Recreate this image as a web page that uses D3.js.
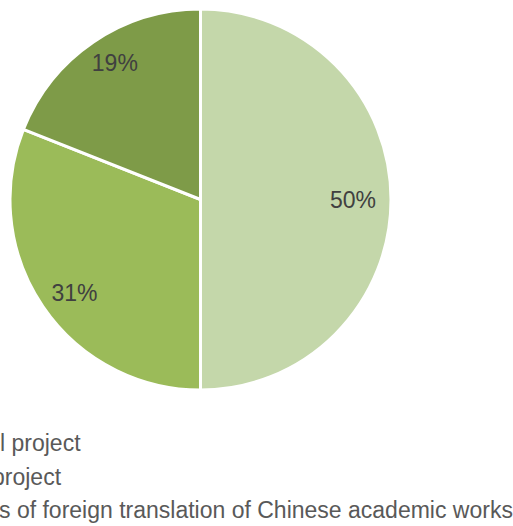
<!DOCTYPE html>
<html>
<head>
<meta charset="utf-8">
<script src="https://cdn.jsdelivr.net/npm/d3@7"></script>
<style>
  html, body { margin: 0; padding: 0; background: #fff; }
  svg { display: block; }
  text { font-family: "Liberation Sans", Arial, Helvetica, sans-serif; }
</style>
</head>
<body>
<svg id="chart" width="513" height="526"></svg>
<script>
// Share of funded projects by type
const categories = ["first", "second", "third"];
const shares = [50, 31, 19];
const sliceColors = ["#c4d7aa", "#9bbb59", "#7e9b48"];
const legendLabels = [
  "l project",
  "project",
  "s of foreign translation of Chinese academic works"
];

const W = 513, H = 526;
const cx = 200.5, cy = 199.5, R = 190.5;

const svg = d3.select("#chart");

const pie = d3.pie()
  .value(d => d.value)
  .sort(null)
  .startAngle(0)
  .endAngle(2 * Math.PI);

const data = categories.map((c, i) => ({ name: c, value: shares[i], color: sliceColors[i] }));
const arcs = pie(data);

const arc = d3.arc().innerRadius(0).outerRadius(R);

const g = svg.append("g").attr("transform", `translate(${cx},${cy})`);

g.selectAll("path.slice")
  .data(arcs)
  .join("path")
  .attr("class", "slice")
  .attr("d", arc)
  .attr("fill", d => d.data.color)
  .attr("stroke", "#ffffff")
  .attr("stroke-width", 3)
  .attr("stroke-linejoin", "miter");

// Percentage labels placed along each slice's mid-angle
const labelRx = R * 0.8, labelRy = R * 0.87;
g.selectAll("text.pct")
  .data(arcs)
  .join("text")
  .attr("class", "pct")
  .attr("x", d => Math.sin((d.startAngle + d.endAngle) / 2) * labelRx)
  .attr("y", d => -Math.cos((d.startAngle + d.endAngle) / 2) * labelRy)
  .attr("dy", "0.36em")
  .attr("text-anchor", "middle")
  .attr("font-size", 23)
  .attr("fill", "#404040")
  .text(d => d.data.value + "%");

// Legend lines below the pie
const legendY = d3.scalePoint()
  .domain(categories)
  .range([451, 518]);
const legendX = [0, -8, -1];

svg.selectAll("text.legend")
  .data(categories)
  .join("text")
  .attr("class", "legend")
  .attr("x", (d, i) => legendX[i])
  .attr("y", d => legendY(d))
  .attr("font-size", 23)
  .attr("fill", "#595959")
  .text((d, i) => legendLabels[i]);
</script>
</body>
</html>
